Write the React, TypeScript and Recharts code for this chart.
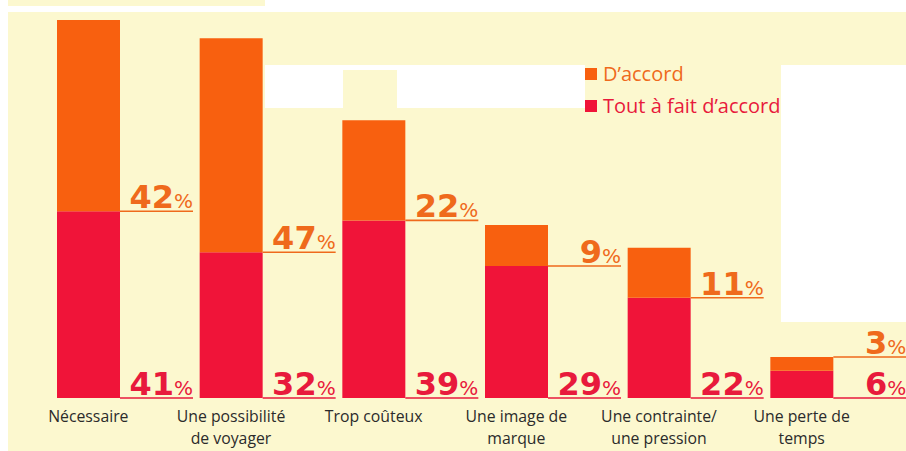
import React from "react";
import { BarChart, Bar, XAxis, YAxis, LabelList } from "recharts";

const categories: string[][] = [
  ["Nécessaire"],
  ["Une possibilité", "de voyager"],
  ["Trop coûteux"],
  ["Une image de", "marque"],
  ["Une contrainte/", "une pression"],
  ["Une perte de", "temps"],
];
const toutAFaitDaccord = [41, 32, 39, 29, 22, 6];
const daccord = [42, 47, 22, 9, 11, 3];

const seriesNames = { accord: "D’accord", tout: "Tout à fait d’accord" };

const ORANGE = "#f8600f";
const RED = "#f01439";
const ORANGE_TEXT = "#ef6a1c";
const RED_TEXT = "#e81a3c";
const CREAM = "#fcf8cf";

const data = categories.map((c, i) => ({
  name: c.join("\n"),
  tout: toutAFaitDaccord[i],
  accord: daccord[i],
}));

const LINE_LEN = 73;

const makeLabel = (color: string, allowTop: boolean) => (props: any) => {
  const { x, y, width, height, value } = props;
  const xs = Number(x) + Number(width);
  const xe = xs + LINE_LEN;
  const h = Number(height);
  const placeTop = allowTop && h < 20;
  const ly = placeTop ? Number(y) : Number(y) + h;
  return (
    <g>
      <line x1={xs} x2={xe} y1={ly} y2={ly} stroke={color} strokeWidth={1.6} />
      <text x={xe} y={ly - 3} textAnchor="end" fill={color}>
        <tspan fontFamily="DejaVu Sans" fontWeight={700} fontSize={32}>
          {value}
        </tspan>
        <tspan fontFamily="DejaVu Sans" fontWeight={400} fontSize={20}>
          %
        </tspan>
      </text>
    </g>
  );
};

const CategoryTick = (props: any) => {
  const { x, y, payload } = props;
  const lines = String(payload.value).split("\n");
  return (
    <g>
      {lines.map((l, i) => (
        <text
          key={i}
          x={x}
          y={Number(y) + 16 + i * 21.5}
          textAnchor="middle"
          fill="#2b2b2b"
          fontFamily="Open Sans"
          fontSize={15.8}
        >
          {l}
        </text>
      ))}
    </g>
  );
};

const legendItems = [
  { label: seriesNames.accord, color: ORANGE, text: ORANGE_TEXT },
  { label: seriesNames.tout, color: RED, text: RED_TEXT },
];

const bg = (l: number, t: number, w: number, h: number, c: string) => (
  <div
    style={{ position: "absolute", left: l, top: t, width: w, height: h, background: c }}
  />
);

export default function App() {
  return (
    <div
      style={{
        position: "absolute",
        left: 0,
        top: 0,
        width: 906,
        height: 451,
        background: "#ffffff",
        overflow: "hidden",
      }}
    >
      {bg(8, 0, 257, 6, CREAM)}
      {bg(8, 12, 898, 439, CREAM)}
      {bg(265, 65, 320, 43, "#ffffff")}
      {bg(343, 70, 54, 42, CREAM)}
      {bg(781, 65, 125, 257, "#ffffff")}
      <div style={{ position: "absolute", left: 0, top: 0 }}>
        <BarChart
          width={906}
          height={451}
          data={data}
          margin={{ top: 20, right: 33, bottom: 0, left: 17 }}
          barSize={63}
        >
          <XAxis
            dataKey="name"
            axisLine={false}
            tickLine={false}
            height={53}
            interval={0}
            tick={<CategoryTick />}
          />
          <YAxis hide domain={[0, 83]} />
          <Bar
            dataKey="tout"
            name={seriesNames.tout}
            stackId="s"
            fill={RED}
            isAnimationActive={false}
          >
            <LabelList dataKey="tout" content={makeLabel(RED_TEXT, false)} />
          </Bar>
          <Bar
            dataKey="accord"
            name={seriesNames.accord}
            stackId="s"
            fill={ORANGE}
            isAnimationActive={false}
          >
            <LabelList dataKey="accord" content={makeLabel(ORANGE_TEXT, true)} />
          </Bar>
        </BarChart>
      </div>
      <div
        style={{
          position: "absolute",
          left: 585,
          top: 58,
          fontFamily: "Open Sans",
          fontSize: 20,
        }}
      >
        {legendItems.map((it) => (
          <div
            key={it.label}
            style={{ display: "flex", alignItems: "center", height: 32 }}
          >
            <span
              style={{
                display: "inline-block",
                width: 12,
                height: 12,
                background: it.color,
                marginRight: 6,
              }}
            />
            <span style={{ color: it.text, lineHeight: "32px" }}>{it.label}</span>
          </div>
        ))}
      </div>
    </div>
  );
}
